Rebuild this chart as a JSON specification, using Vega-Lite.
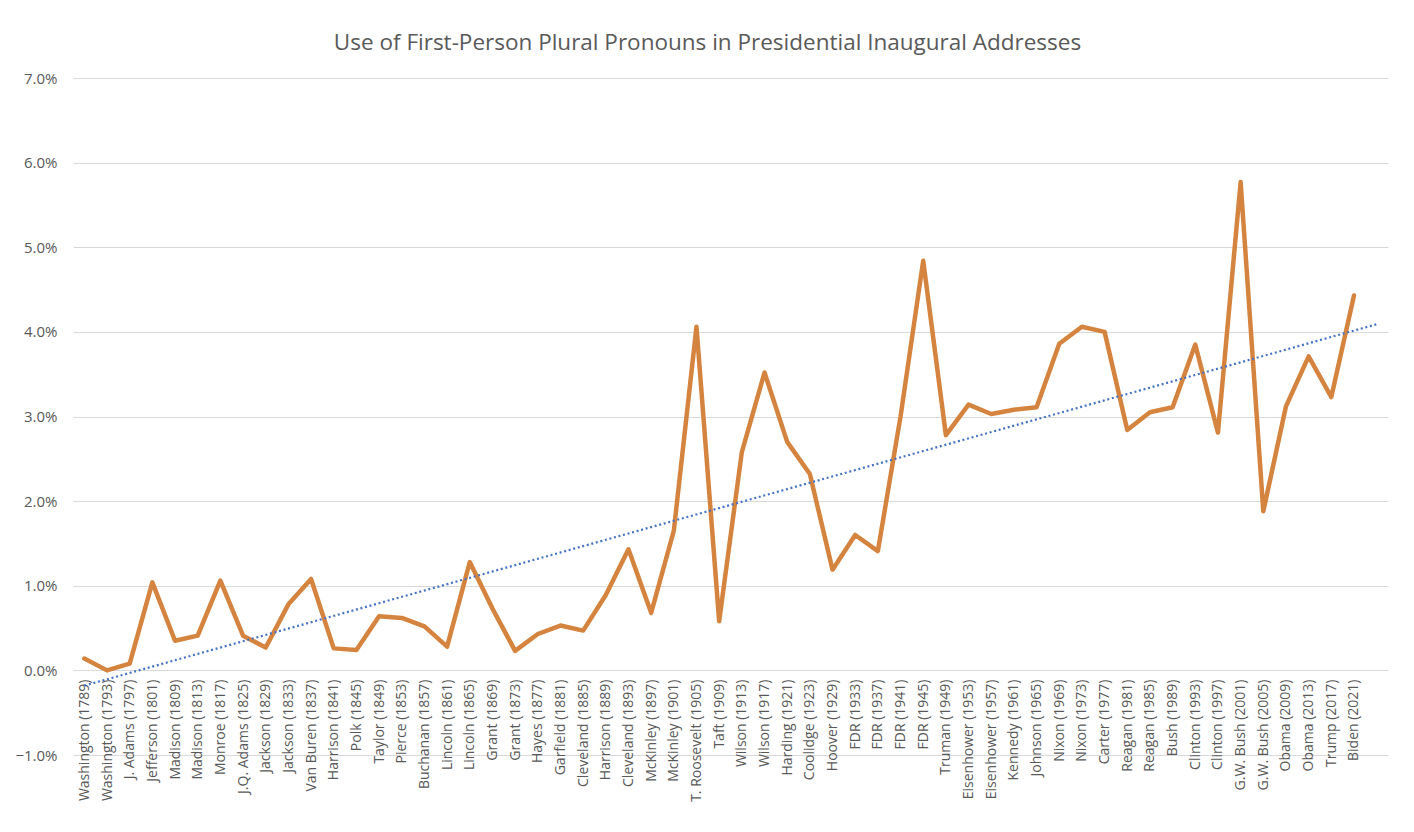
{
  "$schema": "https://vega.github.io/schema/vega-lite/v6.json",
  "width": 1315,
  "height": 677,
  "autosize": {"type": "none"},
  "padding": {"left": 73, "top": 78, "right": 26, "bottom": 77},
  "background": "white",
  "config": {"view": {"stroke": null}, "font": "Open Sans"},
  "title": {
    "text": "Use of First-Person Plural Pronouns in Presidential Inaugural Addresses",
    "fontSize": 22.5,
    "fontWeight": "normal",
    "color": "#595959",
    "font": "Open Sans",
    "anchor": "middle",
    "frame": "group",
    "dx": -23,
    "offset": 17
  },
  "data": {
    "values": [
      {"president": "Washington (1789)", "share": 0.0014, "trend": -0.0018},
      {"president": "Washington (1793)", "share": 0.0000},
      {"president": "J. Adams (1797)", "share": 0.0008},
      {"president": "Jefferson (1801)", "share": 0.0104},
      {"president": "Madison (1809)", "share": 0.0035},
      {"president": "Madison (1813)", "share": 0.0041},
      {"president": "Monroe (1817)", "share": 0.0106},
      {"president": "J.Q. Adams (1825)", "share": 0.0041},
      {"president": "Jackson (1829)", "share": 0.0027},
      {"president": "Jackson (1833)", "share": 0.0078},
      {"president": "Van Buren (1837)", "share": 0.0108},
      {"president": "Harrison (1841)", "share": 0.0026},
      {"president": "Polk (1845)", "share": 0.0024},
      {"president": "Taylor (1849)", "share": 0.0064},
      {"president": "Pierce (1853)", "share": 0.0062},
      {"president": "Buchanan (1857)", "share": 0.0052},
      {"president": "Lincoln (1861)", "share": 0.0028},
      {"president": "Lincoln (1865)", "share": 0.0128},
      {"president": "Grant (1869)", "share": 0.0073},
      {"president": "Grant (1873)", "share": 0.0023},
      {"president": "Hayes (1877)", "share": 0.0043},
      {"president": "Garfield (1881)", "share": 0.0053},
      {"president": "Cleveland (1885)", "share": 0.0047},
      {"president": "Harrison (1889)", "share": 0.0089},
      {"president": "Cleveland (1893)", "share": 0.0143},
      {"president": "McKinley (1897)", "share": 0.0068},
      {"president": "McKinley (1901)", "share": 0.0165},
      {"president": "T. Roosevelt (1905)", "share": 0.0406},
      {"president": "Taft (1909)", "share": 0.0058},
      {"president": "Wilson (1913)", "share": 0.0258},
      {"president": "Wilson (1917)", "share": 0.0352},
      {"president": "Harding (1921)", "share": 0.0270},
      {"president": "Coolidge (1923)", "share": 0.0232},
      {"president": "Hoover (1929)", "share": 0.0119},
      {"president": "FDR (1933)", "share": 0.0160},
      {"president": "FDR (1937)", "share": 0.0141},
      {"president": "FDR (1941)", "share": 0.0300},
      {"president": "FDR (1945)", "share": 0.0484},
      {"president": "Truman (1949)", "share": 0.0278},
      {"president": "Eisenhower (1953)", "share": 0.0314},
      {"president": "Eisenhower (1957)", "share": 0.0303},
      {"president": "Kennedy (1961)", "share": 0.0308},
      {"president": "Johnson (1965)", "share": 0.0311},
      {"president": "Nixon (1969)", "share": 0.0386},
      {"president": "Nixon (1973)", "share": 0.0406},
      {"president": "Carter (1977)", "share": 0.0400},
      {"president": "Reagan (1981)", "share": 0.0284},
      {"president": "Reagan (1985)", "share": 0.0305},
      {"president": "Bush (1989)", "share": 0.0311},
      {"president": "Clinton (1993)", "share": 0.0385},
      {"president": "Clinton (1997)", "share": 0.0281},
      {"president": "G.W. Bush (2001)", "share": 0.0577},
      {"president": "G.W. Bush (2005)", "share": 0.0188},
      {"president": "Obama (2009)", "share": 0.0312},
      {"president": "Obama (2013)", "share": 0.0371},
      {"president": "Trump (2017)", "share": 0.0323},
      {"president": "Biden (2021)", "share": 0.0443},
      {"president": "", "share": null, "trend": 0.0409}
    ]
  },
  "encoding": {
    "x": {
      "field": "president",
      "type": "ordinal",
      "sort": null,
      "axis": {
        "title": null,
        "offset": -85,
        "domain": false,
        "ticks": false,
        "labelAngle": 270,
        "labelAlign": "right",
        "labelBaseline": "middle",
        "labelPadding": 9,
        "labelFont": "Open Sans",
        "labelFontSize": 14,
        "labelColor": "#595959",
        "labelOverlap": false,
        "labelLimit": 300
      }
    }
  },
  "layer": [
    {
      "mark": {"type": "line", "color": "#D5843F", "strokeWidth": 4.5, "strokeJoin": "round", "strokeCap": "round"},
      "encoding": {
        "y": {
          "field": "share",
          "type": "quantitative",
          "scale": {"domain": [-0.01, 0.07], "nice": false, "zero": false},
          "axis": {
            "title": null,
            "format": ".1%",
            "values": [-0.01, 0, 0.01, 0.02, 0.03, 0.04, 0.05, 0.06, 0.07],
            "domain": false,
            "ticks": false,
            "grid": true,
            "gridColor": "#D9D9D9",
            "gridWidth": 1.2,
            "labelPadding": 16,
            "labelFont": "Open Sans",
            "labelFontSize": 15,
            "labelColor": "#595959"
          }
        }
      }
    },
    {
      "transform": [{"filter": "isValid(datum.trend)"}],
      "mark": {"type": "line", "color": "#4472C4", "strokeWidth": 2.2, "strokeDash": [2, 2.7]},
      "encoding": {
        "y": {"field": "trend", "type": "quantitative"}
      }
    }
  ]
}
